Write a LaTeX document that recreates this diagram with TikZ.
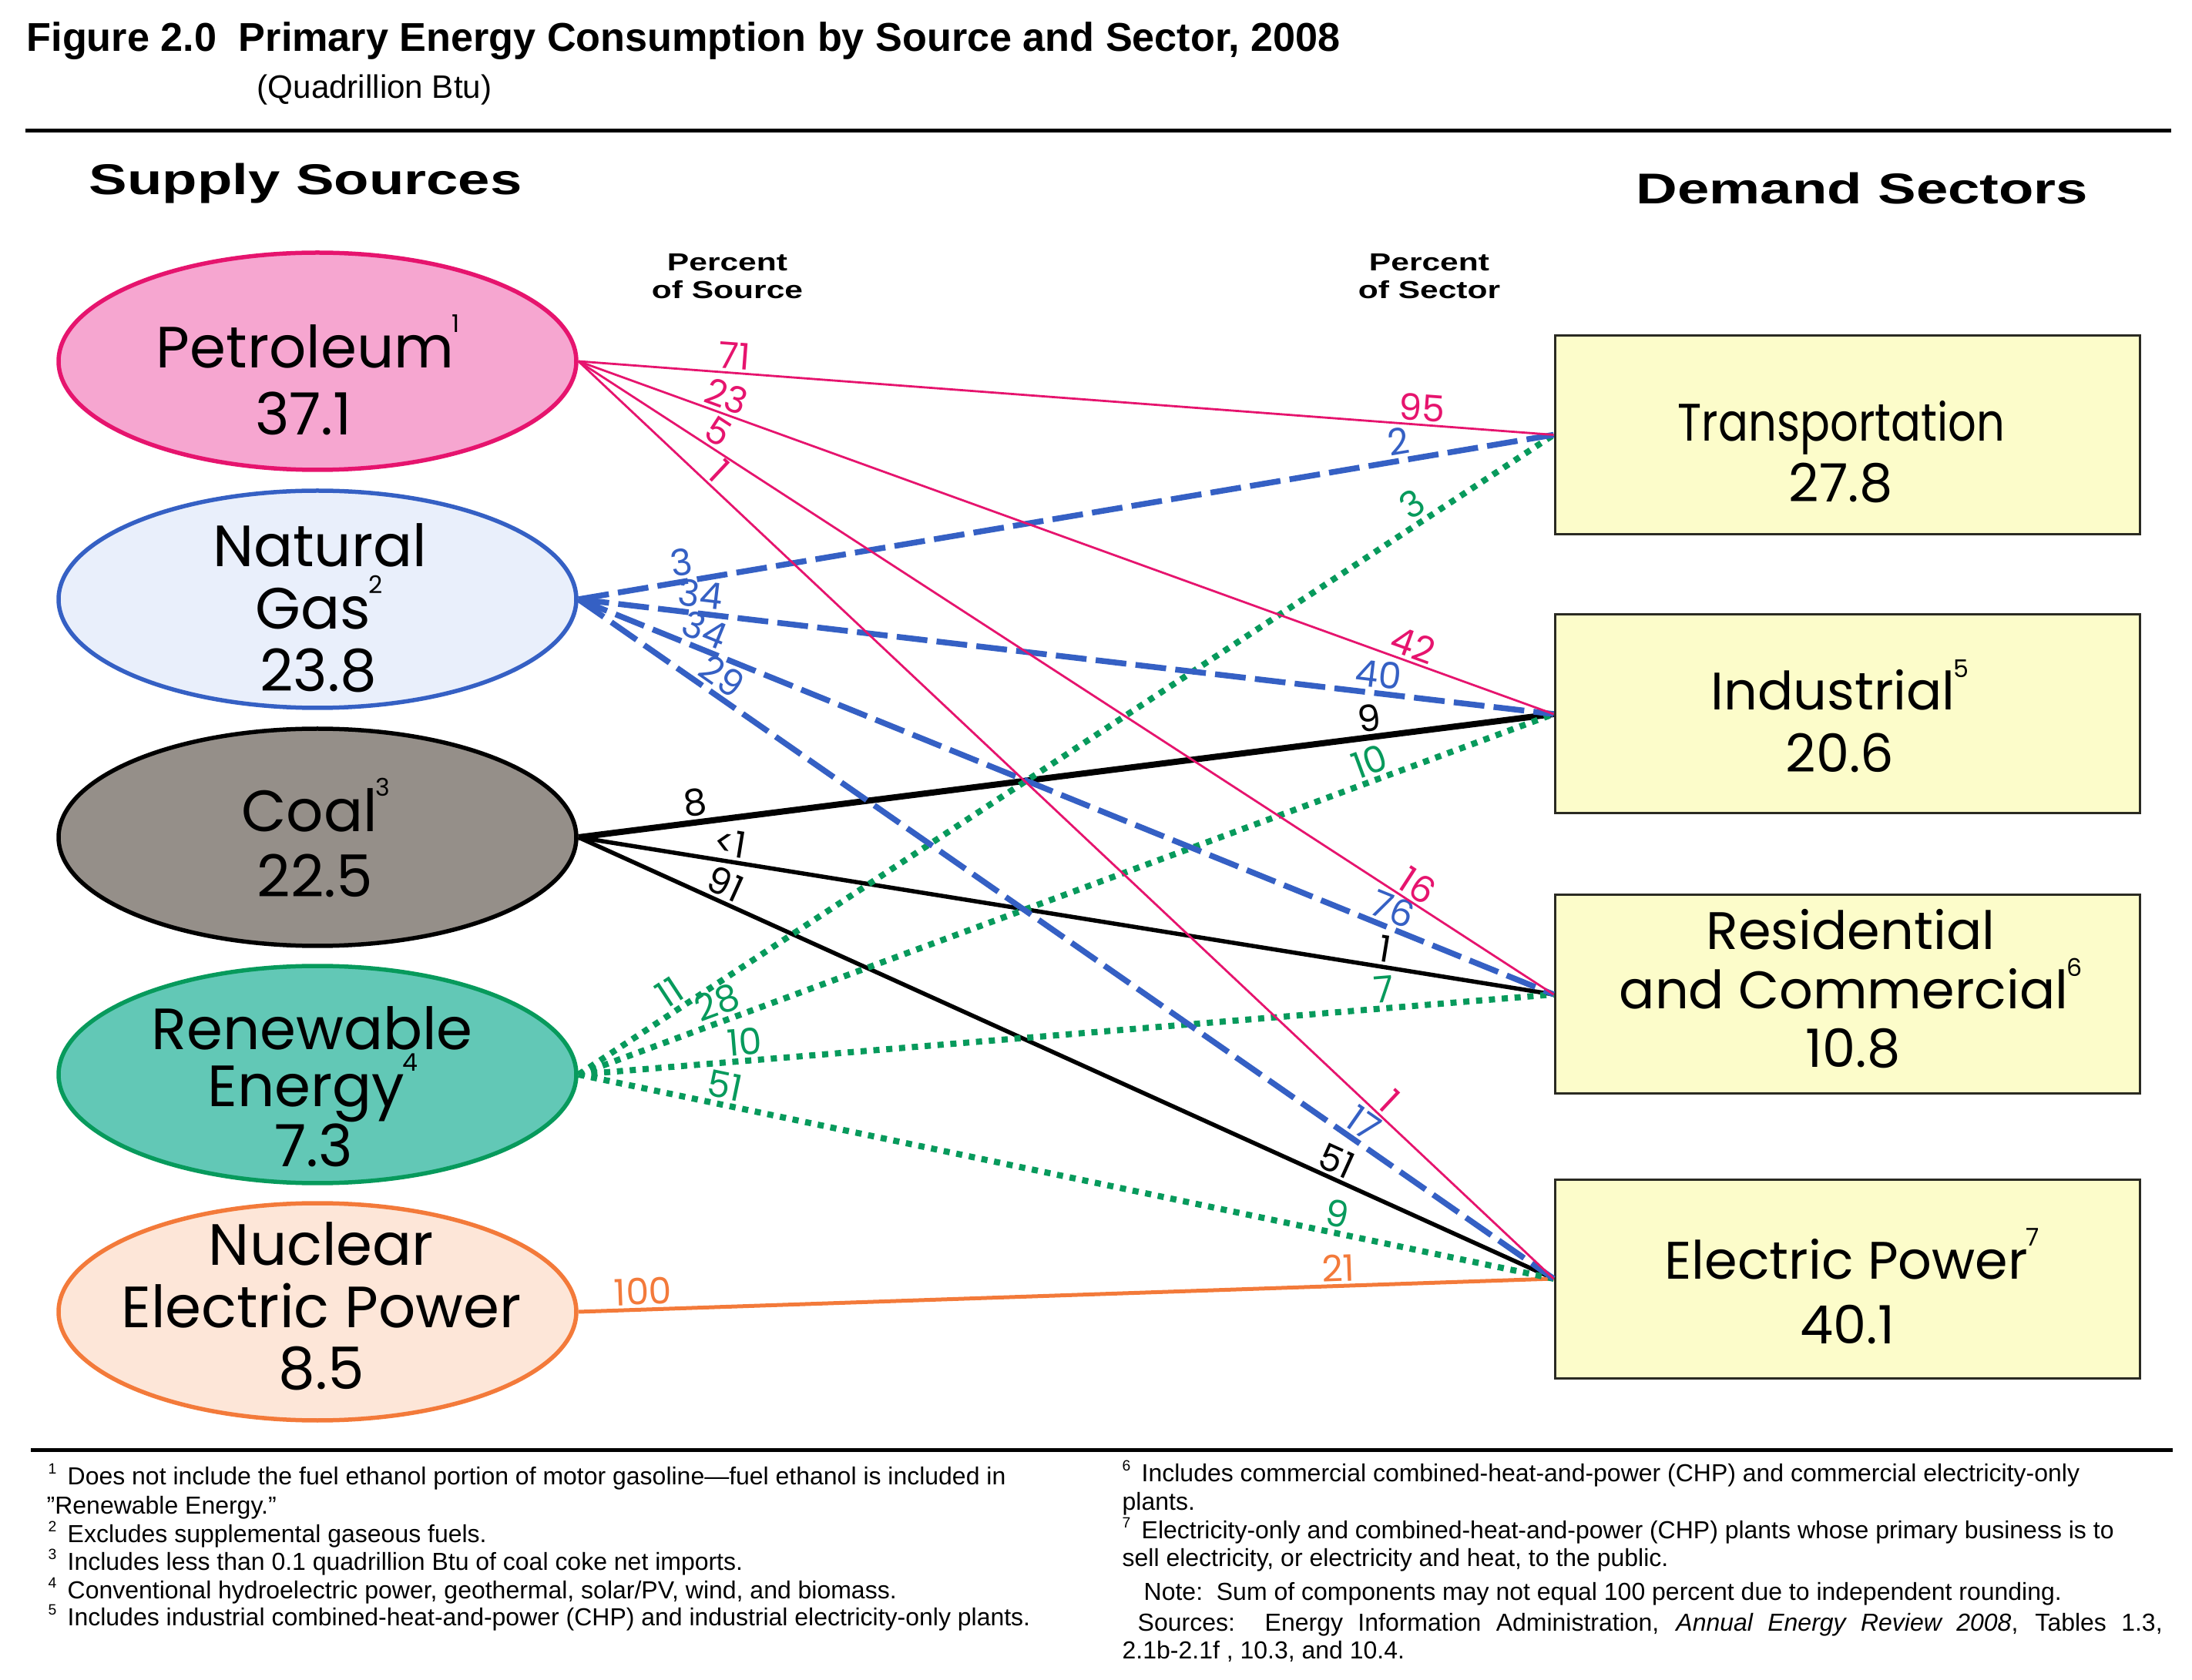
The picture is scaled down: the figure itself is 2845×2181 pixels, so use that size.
\documentclass[tikz,border=0pt]{standalone}
\usepackage{fontspec}
\setmainfont{Liberation Sans}
\newfontfamily\geo{Poppins}
\newfontfamily\hd{Liberation Sans Bold}[FakeStretch=1.33]
\usetikzlibrary{shapes.geometric}
\definecolor{pk}{HTML}{E6146E}
\definecolor{pkfill}{HTML}{F6A6D0}
\definecolor{bl}{HTML}{3560C4}
\definecolor{blfill}{HTML}{E9EFFB}
\definecolor{coalfill}{HTML}{958F89}
\definecolor{gn}{HTML}{079A5C}
\definecolor{gnfill}{HTML}{62C8B6}
\definecolor{org}{HTML}{F37A3A}
\definecolor{orgfill}{HTML}{FDE6D8}
\definecolor{boxfill}{HTML}{FCFCCA}
\definecolor{boxline}{HTML}{2A2A22}
\newcommand\sups[1]{\hspace{-0.03em}\raisebox{0.62em}{\fontsize{9}{9}\selectfont #1}}
\newcommand\fsup[1]{\makebox[2.5mm][l]{\raisebox{0.42em}{\fontsize{5.5}{5.5}\selectfont #1}}}
\begin{document}
\begin{tikzpicture}[x=0.1mm,y=-0.1mm,
  src/.style={ellipse, minimum width=67.2mm, minimum height=28.2mm, inner sep=0, line width=0.55mm},
  sect/.style={rectangle, draw=boxline, fill=boxfill, minimum width=75.9mm, minimum height=25.8mm, inner sep=0, line width=0.3mm},
  etxt/.style={anchor=base, inner sep=0, font=\geo\fontsize{21.5}{24}\selectfont},
  btxt/.style={anchor=base, inner sep=0, font=\geo\fontsize{19.5}{22}\selectfont},
  lab/.style={sloped, above, inner sep=1pt, font=\geo\fontsize{13.5}{13.5}\selectfont},
  petl/.style={draw=pk, line width=0.28mm},
  ngl/.style={draw=bl, line width=0.75mm, dash pattern=on 4.0mm off 1.2mm},
  coall/.style={draw=black, line width=0.55mm},
  renl/.style={draw=gn, line width=0.8mm, dash pattern=on 0.8mm off 0.87mm},
  nucl/.style={draw=org, line width=0.5mm},
  fn/.style={anchor=base west, inner sep=0, font=\fontsize{9.1}{11}\selectfont},
  hdg/.style={anchor=base west, inner sep=0, font=\hd\fontsize{15.9}{18}\selectfont},
  pct/.style={anchor=base, inner sep=0, font=\hd\fontsize{9.1}{11}\selectfont},
  rule/.style={line width=0.5mm}
]
\useasboundingbox (0,0) rectangle (2845,2181);
\fill[white] (0,0) rectangle (2845,2181);

% title
\node[anchor=base west, inner sep=0, font=\bfseries\fontsize{14.85}{17}\selectfont] (title) at (34,67)
  {Figure 2.0\hspace{0.55em}Primary Energy Consumption by Source and Sector, 2008};
\node[anchor=base west, inner sep=0, font=\fontsize{12}{14}\selectfont] (subtitle) at (333,128) {(Quadrillion Btu)};
\coordinate (r1a) at (33,170);
\coordinate (r1b) at (2818,170);
\draw[rule] (r1a) -- (r1b);

\node[hdg] (hsup) at (115,253) {Supply Sources};
\node[hdg] (hdem) at (2123,265) {Demand Sectors};
\node[pct] (ps1) at (944,352) {Percent};
\node[pct] (ps2) at (944,388) {of Source};
\node[pct] (pd1) at (1855,352) {Percent};
\node[pct] (pd2) at (1855,388) {of Sector};

% sources
\node[src, draw=pk, fill=pkfill] (pet) at (412,469) {};
\node[src, draw=bl, fill=blfill] (ng) at (412,778) {};
\node[src, draw=black, fill=coalfill] (coal) at (412,1087) {};
\node[src, draw=gn, fill=gnfill] (ren) at (412,1395) {};
\node[src, draw=org, fill=orgfill] (nuc) at (412,1703) {};

% sectors
\node[sect] (tra) at (2397.5,564.5) {};
\node[sect] (ind) at (2397.5,927) {};
\node[sect] (res) at (2397.5,1291) {};
\node[sect] (ele) at (2397.5,1660) {};

% connectors
\draw[coall, line width=0.8mm] (coal.east) -- node[lab, pos=.122] (c1) {8} node[lab, pos=.813] (c2) {9} (ind.west);
\draw[coall] (coal.east) -- node[lab, pos=.153] (c3) {<1} node[lab, pos=.824] (c4) {1} (res.west);
\draw[coall] (coal.east) -- node[lab, pos=.143] (c5) {91} node[lab, pos=.77] (c6) {51} (ele.west);

\draw[nucl] (nuc.east) -- node[lab, text=org, pos=.067] (n1) {100} node[lab, text=org, pos=.78] (n2) {21} (ele.west);

\draw[renl] (ren.east) -- node[lab, text=gn, pos=.104] (r1) {11} node[lab, text=gn, pos=.866] (r2) {3} (tra.west);
\draw[renl] (ren.east) -- node[lab, text=gn, pos=.149] (r3) {28} node[lab, text=gn, pos=.818] (r4) {10} (ind.west);
\draw[renl] (ren.east) -- node[lab, text=gn, pos=.172] (r5) {10} node[lab, text=gn, pos=.827] (r6) {7} (res.west);
\draw[renl] (ren.east) -- node[lab, text=gn, pos=.146] (r7) {51} node[lab, text=gn, pos=.774] (r8) {9} (ele.west);

\draw[ngl] (ng.east) -- node[lab, text=bl, pos=.109] (g1) {3} node[lab, text=bl, pos=.844] (g2) {2} (tra.west);
\draw[ngl] (ng.east) -- node[lab, text=bl, pos=.123] (g3) {34} node[lab, text=bl, pos=.818] (g4) {40} (ind.west);
\draw[ngl] (ng.east) -- node[lab, text=bl, pos=.122] (g5) {34} node[lab, text=bl, pos=.828] (g6) {76} (res.west);
\draw[ngl] (ng.east) -- node[lab, text=bl, pos=.136] (g7) {29} node[lab, text=bl, pos=.794] (g8) {17} (ele.west);

\draw[petl] (pet.east) -- node[lab, text=pk, pos=.159] (p1) {71} node[lab, text=pk, pos=.864] (p2) {95} (tra.west);
\draw[petl] (pet.east) -- node[lab, text=pk, pos=.146] (p3) {23} node[lab, text=pk, pos=.85] (p4) {42} (ind.west);
\draw[petl] (pet.east) -- node[lab, text=pk, pos=.134] (p5) {5} node[lab, text=pk, pos=.851] (p6) {16} (res.west);
\draw[petl] (pet.east) -- node[lab, text=pk, pos=.133] (p7) {1} node[lab, text=pk, pos=.82] (p8) {1} (ele.west);

% source texts
\node[etxt] (pett1) at (400,478) {Petroleum\sups{1}};
\node[etxt] (pett2) at (394,565) {37.1};
\node[etxt] (ngt1) at (415,736) {Natural};
\node[etxt] (ngt2) at (414,817) {Gas\sups{2}};
\node[etxt] (ngt3) at (413,898) {23.8};
\node[etxt] (coalt1) at (410,1080) {Coal\sups{3}};
\node[etxt] (coalt2) at (409,1165) {22.5};
\node[etxt] (rent1) at (405,1363) {Renewable};
\node[etxt] (rent2) at (406,1437) {Energy\sups{4}};
\node[etxt] (rent3) at (407,1514) {7.3};
\node[etxt] (nuct1) at (417,1642) {Nuclear};
\node[etxt] (nuct2) at (417,1723) {Electric Power};
\node[etxt] (nuct3) at (417,1803) {8.5};

% sector texts
\node[btxt] (trat1) at (2390,573) {\scalebox{0.84}[1]{Transportation}};
\node[btxt] (trat2) at (2389,652) {27.8};
\node[btxt] (indt1) at (2388,922) {Industrial\sups{5}};
\node[btxt] (indt2) at (2388,1003) {20.6};
\node[btxt] (rest1) at (2402,1233) {Residential};
\node[btxt] (rest2) at (2402,1310) {and Commercial\sups{6}};
\node[btxt] (rest3) at (2405,1386) {10.8};
\node[btxt] (elet1) at (2404,1660) {Electric Power\sups{7}};
\node[btxt] (elet2) at (2398,1744) {40.1};

% footnotes
\coordinate (r2a) at (40,1882);
\coordinate (r2b) at (2820,1882);
\draw[rule] (r2a) -- (r2b);
\node[fn] (f1) at (62,1927) {\fsup{1}Does not include the fuel ethanol portion of motor gasoline—fuel ethanol is included in};
\node[fn] (f1b) at (60,1965) {"Renewable Energy."};
\node[fn] (f2) at (62,2002) {\fsup{2}Excludes supplemental gaseous fuels.};
\node[fn] (f3) at (62,2038) {\fsup{3}Includes less than 0.1 quadrillion Btu of coal coke net imports.};
\node[fn] (f4) at (62,2075) {\fsup{4}Conventional hydroelectric power, geothermal, solar/PV, wind, and biomass.};
\node[fn] (f5) at (62,2110) {\fsup{5}Includes industrial combined-heat-and-power (CHP) and industrial electricity-only plants.};
\node[fn] (f6) at (1456,1923) {\fsup{6}Includes commercial combined-heat-and-power (CHP) and commercial electricity-only};
\node[fn] (f6b) at (1456,1960) {plants.};
\node[fn] (f7) at (1456,1997) {\fsup{7}Electricity-only and combined-heat-and-power (CHP) plants whose primary business is to};
\node[fn] (f7b) at (1456,2033) {sell electricity, or electricity and heat, to the public.};
\node[fn] (note) at (1484,2077) {Note:\ \ Sum of components may not equal 100 percent due to independent rounding.};
\node[fn] (src1) at (1476,2117) {\makebox[133mm][s]{Sources:\ \ Energy Information Administration, \textit{Annual Energy Review 2008}, Tables 1.3,}};
\node[fn] (src2) at (1456,2153) {2.1b-2.1f , 10.3, and 10.4.};
\end{tikzpicture}
\end{document}
